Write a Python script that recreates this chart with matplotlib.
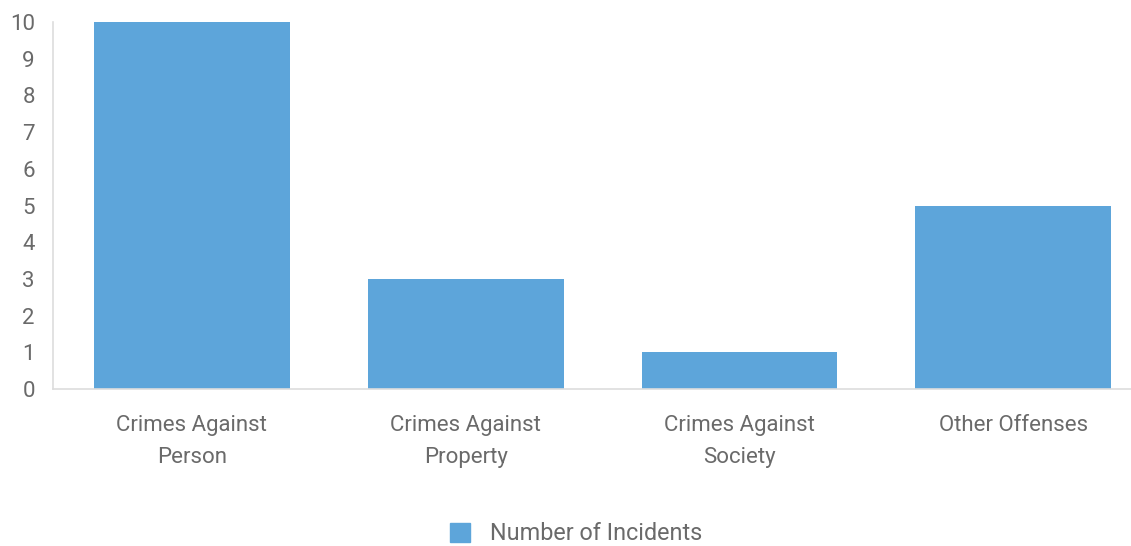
import matplotlib.pyplot as plt
from matplotlib.patches import Patch

categories = ["Crimes Against\nPerson", "Crimes Against\nProperty",
              "Crimes Against\nSociety", "Other Offenses"]
incidents = [10, 3, 1, 5]
series_name = "Number of Incidents"

bar_color = "#5DA5DA"
text_color = "#6A6A6A"
axis_color = "#DDDDDD"

plt.rcParams['font.family'] = ['Roboto', 'DejaVu Sans']

fig = plt.figure(figsize=(11.31, 5.46), dpi=100)
ax = fig.add_axes([53/1131, 1-389/546, (1131-53)/1131, (389-22)/546])

x = list(range(len(categories)))
ax.bar(x, incidents, width=0.715, color=bar_color, zorder=2)

ax.set_xlim(-0.507, 3.43)
ax.set_ylim(0, 10)
ax.set_yticks(range(0, 11))
ax.set_xticks(x)
ax.set_xticklabels(categories, linespacing=1.65)

for side in ["top", "right"]:
    ax.spines[side].set_visible(False)
for side in ["left", "bottom"]:
    ax.spines[side].set_color(axis_color)
    ax.spines[side].set_linewidth(1.2)

ax.tick_params(axis="y", length=0, pad=13, labelsize=16, labelcolor=text_color)
ax.tick_params(axis="x", length=0, pad=19, labelsize=16, labelcolor=text_color)

fig.legend(handles=[Patch(color=bar_color, label=series_name)],
           loc="center", bbox_to_anchor=(576/1131, 1-534/546), frameon=False,
           fontsize=16.8, labelcolor=text_color, handlelength=0.85, handleheight=0.85,
           handletextpad=0.85)

fig.savefig("out.png", dpi=100)
